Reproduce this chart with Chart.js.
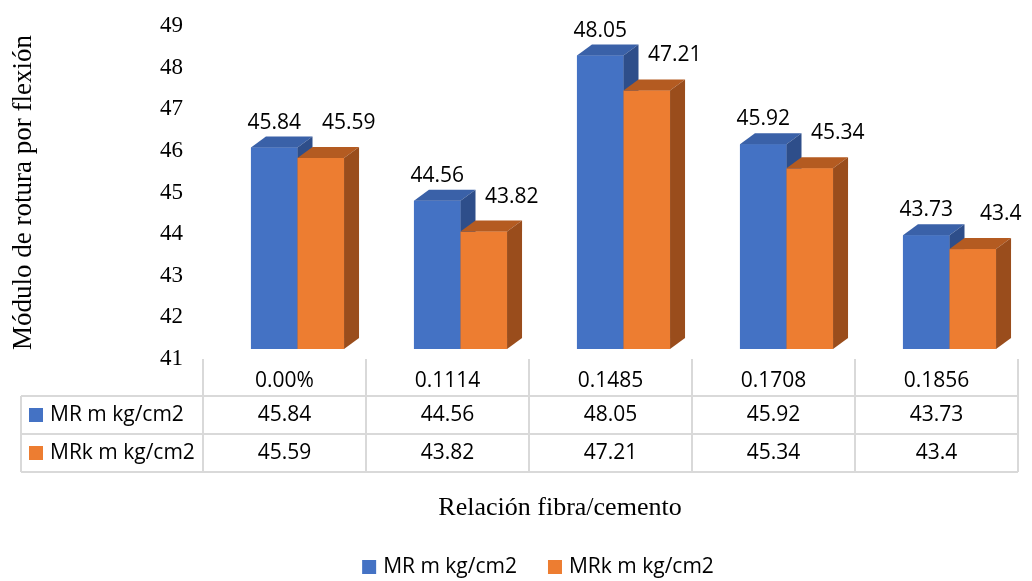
<!DOCTYPE html>
<html>
<head>
<meta charset="utf-8">
<script src="https://cdn.jsdelivr.net/npm/chart.js@4.4.1/dist/chart.umd.min.js"></script>
<style>
  html, body { margin: 0; padding: 0; background: #ffffff; }
  #wrap { width: 1032px; height: 581px; }
</style>
</head>
<body>
<div id="wrap"><canvas id="chart" width="1032" height="581"></canvas></div>
<script>
// Fibre/cement ratios and the two flexural modulus series
const categories = ['0.00%', '0.1114', '0.1485', '0.1708', '0.1856'];
const mrValues  = [45.84, 44.56, 48.05, 45.92, 43.73];
const mrkValues = [45.59, 43.82, 47.21, 45.34, 43.4];
const seriesNames = ['MR m kg/cm2', 'MRk m kg/cm2'];
const yMin = 41, yMax = 49, yStep = 1;

const frontColors = ['#4472C4', '#ED7D31'];
const topColors   = ['#3A61A8', '#B45B21'];
const sideColors  = ['#2E4E8A', '#9A4D1C'];

// 3D extrusion of each bar and the offset of the bar block against the axis wall
const DEPTH_X = 15, DEPTH_Y = -11;
const SHIFT_X = 13, SHIFT_Y = -10;

const SANS = '"Open Sans", "Liberation Sans", sans-serif';
const SERIF = '"Liberation Serif", "DejaVu Serif", serif';

// Bars are drawn shifted in front of the axis wall, then repainted as blocks
// (front, top, side) so that the first series sits behind the second.
const bars3d = {
  id: 'bars3d',
  beforeDatasetsDraw(chart) {
    chart.ctx.save();
    chart.ctx.translate(SHIFT_X, SHIFT_Y);
  },
  afterDatasetsDraw(chart) {
    const ctx = chart.ctx;
    chart.data.datasets.forEach((ds, i) => {
      chart.getDatasetMeta(i).data.forEach(bar => {
        const p = bar.getProps(['x', 'y', 'base', 'width'], true);
        const l = p.x - p.width / 2, r = p.x + p.width / 2;
        ctx.fillStyle = frontColors[i];
        ctx.fillRect(l, p.y, p.width, p.base - p.y);
        ctx.fillStyle = topColors[i];
        ctx.beginPath();
        ctx.moveTo(l, p.y);
        ctx.lineTo(l + DEPTH_X, p.y + DEPTH_Y);
        ctx.lineTo(r + DEPTH_X, p.y + DEPTH_Y);
        ctx.lineTo(r, p.y);
        ctx.closePath();
        ctx.fill();
        ctx.fillStyle = sideColors[i];
        ctx.beginPath();
        ctx.moveTo(r, p.y);
        ctx.lineTo(r + DEPTH_X, p.y + DEPTH_Y);
        ctx.lineTo(r + DEPTH_X, p.base + DEPTH_Y);
        ctx.lineTo(r, p.base);
        ctx.closePath();
        ctx.fill();
      });
    });
    // value labels
    ctx.font = '21px ' + SANS;
    ctx.fillStyle = '#000000';
    ctx.textAlign = 'center';
    ctx.textBaseline = 'middle';
    chart.data.datasets.forEach((ds, i) => {
      chart.getDatasetMeta(i).data.forEach((bar, j) => {
        const p = bar.getProps(['x', 'y'], true);
        const dx = i === 0 ? 0 : 28;
        const dy = i === 0 ? -25 : -35;
        ctx.fillText(String(ds.data[j]), p.x + dx, p.y + dy);
      });
    });
    ctx.restore();
  }
};

// Data table under the plot, x-axis title and legend
const dataTable = {
  id: 'dataTable',
  afterDraw(chart) {
    const ctx = chart.ctx;
    const xs = chart.scales.x;
    const n = categories.length;
    const cw = (xs.right - xs.left) / n;
    const top = chart.chartArea.bottom;
    const r1 = top + 37, r2 = r1 + 38, r3 = r2 + 38;
    const tableLeft = 21;
    ctx.save();
    ctx.strokeStyle = '#D9D9D9';
    ctx.lineWidth = 2;
    ctx.beginPath();
    for (let i = 0; i <= n; i++) {
      const x = xs.left + i * cw;
      ctx.moveTo(x, top); ctx.lineTo(x, r3);
    }
    ctx.moveTo(tableLeft, r1); ctx.lineTo(tableLeft, r3);
    [r1, r2, r3].forEach(y => { ctx.moveTo(tableLeft, y); ctx.lineTo(xs.right, y); });
    ctx.stroke();

    ctx.font = '21px ' + SANS;
    ctx.fillStyle = '#000000';
    ctx.textBaseline = 'middle';
    ctx.textAlign = 'center';
    const rows = [mrValues, mrkValues];
    categories.forEach((c, j) => {
      const cx = xs.left + (j + 0.5) * cw;
      ctx.fillText(c, cx, top + 22);
      rows.forEach((vals, k) => {
        const yc = (k === 0 ? (r1 + r2) / 2 : (r2 + r3) / 2);
        ctx.fillText(String(vals[j]), cx, yc);
      });
    });
    ctx.textAlign = 'left';
    seriesNames.forEach((name, k) => {
      const yc = k === 0 ? (r1 + r2) / 2 : (r2 + r3) / 2;
      ctx.fillStyle = frontColors[k];
      ctx.fillRect(29, yc - 7, 14, 14);
      ctx.fillStyle = '#000000';
      ctx.fillText(name, 50, yc);
    });

    // x-axis title
    ctx.font = '26px ' + SERIF;
    ctx.textAlign = 'center';
    ctx.fillText('Relación fibra/cemento', 560, 508);

    // legend
    ctx.font = '21px ' + SANS;
    const gapBox = 7, gapItem = 31, box = 14;
    const widths = seriesNames.map(s => ctx.measureText(s).width);
    const total = widths.reduce((a, w) => a + box + gapBox + w, 0) + gapItem;
    let x = 538 - total / 2;
    const ly = 567;
    ctx.textAlign = 'left';
    seriesNames.forEach((name, k) => {
      ctx.fillStyle = frontColors[k];
      ctx.fillRect(x, ly - 7, box, box);
      ctx.fillStyle = '#000000';
      ctx.fillText(name, x + box + gapBox, ly);
      x += box + gapBox + widths[k] + gapItem;
    });
    ctx.restore();
  }
};

new Chart(document.getElementById('chart'), {
  type: 'bar',
  data: {
    labels: categories,
    datasets: [
      { label: seriesNames[0], data: mrValues, backgroundColor: frontColors[0], borderWidth: 0, clip: false },
      { label: seriesNames[1], data: mrkValues, backgroundColor: frontColors[1], borderWidth: 0, clip: false }
    ]
  },
  options: {
    responsive: false,
    animation: false,
    events: [],
    layout: { padding: { top: 26, bottom: 222, left: 0, right: 14 } },
    datasets: { bar: { categoryPercentage: 0.571, barPercentage: 1.0, base: yMin } },
    plugins: { legend: { display: false }, tooltip: { enabled: false } },
    scales: {
      x: { display: false, offset: true },
      y: {
        min: yMin, max: yMax,
        beginAtZero: false,
        afterFit(scale) { scale.width = 203; scale.paddingTop = 0; },
        grid: { display: false, drawTicks: false },
        border: { display: false },
        ticks: { stepSize: yStep, padding: 20, color: '#000000', font: { family: SERIF, size: 23 } },
        title: {
          display: true,
          text: 'Módulo de rotura por flexión',
          color: '#000000',
          font: { family: SERIF, size: 27 },
          padding: { top: 8, bottom: 0 }
        }
      }
    }
  },
  plugins: [bars3d, dataTable]
});
</script>
</body>
</html>
